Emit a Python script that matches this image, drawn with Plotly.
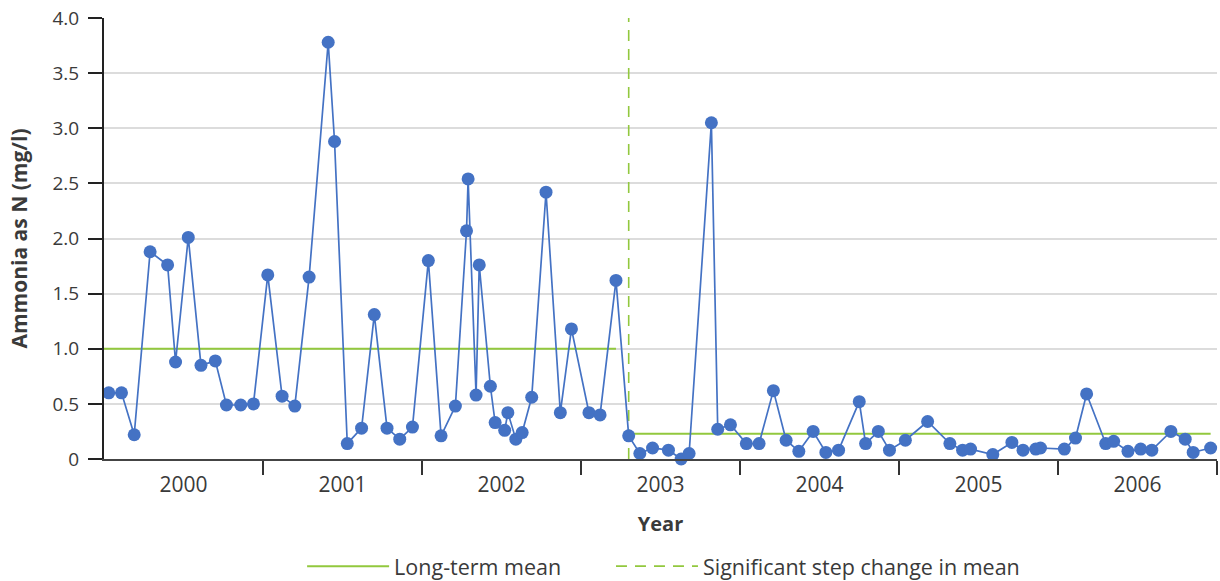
import plotly.graph_objects as go

# ---- data ----
sample_time = [
    2000.03, 2000.11, 2000.19, 2000.29, 2000.40, 2000.45, 2000.53, 2000.61, 2000.70, 2000.77,
    2000.86, 2000.94, 2001.03, 2001.12, 2001.20, 2001.29, 2001.41, 2001.45, 2001.53, 2001.62,
    2001.70, 2001.78, 2001.86, 2001.94, 2002.04, 2002.12, 2002.21, 2002.28, 2002.29, 2002.34,
    2002.36, 2002.43, 2002.46, 2002.52, 2002.54, 2002.59, 2002.63, 2002.69, 2002.78, 2002.87,
    2002.94, 2003.05, 2003.12, 2003.22, 2003.30, 2003.37, 2003.45, 2003.55, 2003.63, 2003.68,
    2003.82, 2003.86, 2003.94, 2004.04, 2004.12, 2004.21, 2004.29, 2004.37, 2004.46, 2004.54,
    2004.62, 2004.75, 2004.79, 2004.87, 2004.94, 2005.04, 2005.18, 2005.32, 2005.40, 2005.45,
    2005.59, 2005.71, 2005.78, 2005.86, 2005.89, 2006.04, 2006.11, 2006.18, 2006.30, 2006.35,
    2006.44, 2006.52, 2006.59, 2006.71, 2006.80, 2006.85, 2006.96,
]
ammonia = [
    0.60, 0.60, 0.22, 1.88, 1.76, 0.88, 2.01, 0.85, 0.89, 0.49,
    0.49, 0.50, 1.67, 0.57, 0.48, 1.65, 3.78, 2.88, 0.14, 0.28,
    1.31, 0.28, 0.18, 0.29, 1.80, 0.21, 0.48, 2.07, 2.54, 0.58,
    1.76, 0.66, 0.33, 0.26, 0.42, 0.18, 0.24, 0.56, 2.42, 0.42,
    1.18, 0.42, 0.40, 1.62, 0.21, 0.05, 0.10, 0.08, 0.00, 0.05,
    3.05, 0.27, 0.31, 0.14, 0.14, 0.62, 0.17, 0.07, 0.25, 0.06,
    0.08, 0.52, 0.14, 0.25, 0.08, 0.17, 0.34, 0.14, 0.08, 0.09,
    0.04, 0.15, 0.08, 0.09, 0.10, 0.09, 0.19, 0.59, 0.14, 0.16,
    0.07, 0.09, 0.08, 0.25, 0.18, 0.06, 0.10,
]
mean_before_x = [2000.0, 2003.22]
mean_before_y = [1.0, 1.0]
mean_after_x = [2003.30, 2006.96]
mean_after_y = [0.23, 0.23]
step_change_x = 2003.30
years = ["2000", "2001", "2002", "2003", "2004", "2005", "2006"]
y_ticks = [0, 0.5, 1.0, 1.5, 2.0, 2.5, 3.0, 3.5, 4.0]
y_ticklabels = ["0", "0.5", "1.0", "1.5", "2.0", "2.5", "3.0", "3.5", "4.0"]

BLUE = "#4472C4"
GREEN = "#92C83E"
FONT = "Open Sans"
TXT = "#3a3a3a"

fig = go.Figure()

fig.add_trace(go.Scatter(
    x=mean_before_x + [None] + mean_after_x,
    y=mean_before_y + [None] + mean_after_y,
    mode="lines", line=dict(color=GREEN, width=2),
    name="Long-term mean", legend="legend",
))

fig.add_trace(go.Scatter(
    x=[step_change_x, step_change_x], y=[0, 4.0],
    mode="lines", line=dict(color=GREEN, width=1.6, dash="11px,8px"),
    name="Significant step change in mean", legend="legend2",
))

fig.add_trace(go.Scatter(
    x=sample_time, y=ammonia, mode="lines+markers",
    line=dict(color=BLUE, width=1.7),
    marker=dict(color=BLUE, size=13),
    showlegend=False, cliponaxis=False,
))

start = int(years[0])
mid_vals = [int(y) + 0.5 for y in years]
bound_vals = [start + i for i in range(1, len(years) + 1)]

legend_style = dict(
    orientation="h", xanchor="left", y=-0.243, yanchor="middle",
    font=dict(size=21.5, color=TXT), itemwidth=82,
    bgcolor="rgba(0,0,0,0)",
)

fig.update_layout(
    width=1220, height=581,
    margin=dict(l=104, r=3, t=18, b=122, autoexpand=False),
    paper_bgcolor="white", plot_bgcolor="white",
    font=dict(family=FONT, size=20, color=TXT),
    showlegend=True,
    legend=dict(x=0.178, **legend_style),
    legend2=dict(x=0.4555, **legend_style),
)

fig.update_xaxes(
    range=[start, start + len(years)],
    tickmode="array", tickvals=mid_vals, ticktext=years,
    ticks="", ticklabelstandoff=6,
    minor=dict(tickmode="array", tickvals=bound_vals, ticks="outside",
               ticklen=14, tickwidth=2, tickcolor="#333333", showgrid=False),
    showline=True, linecolor="#444444", linewidth=2,
    showgrid=False, zeroline=False, automargin=False,
    tickfont=dict(size=21, color=TXT),
    title=dict(text="<b>Year</b>", font=dict(size=20, color=TXT), standoff=20),
)

fig.update_yaxes(
    range=[0, 4.0],
    tickmode="array", tickvals=y_ticks, ticktext=y_ticklabels,
    ticks="outside", ticklen=14, tickwidth=2, tickcolor="#222222",
    ticklabelstandoff=5,
    showline=True, linecolor="#222222", linewidth=2,
    showgrid=True, gridcolor="#dcdcdc", gridwidth=1.5,
    zeroline=False, automargin=False,
    tickfont=dict(size=19, color=TXT),
    title=dict(text="<b>Ammonia as N (mg/l)</b>", font=dict(size=21, color=TXT), standoff=19),
)

fig.write_html(
    "out.html",
    config={"displayModeBar": False},
    post_script="document.body.style.margin='0';document.body.style.overflow='hidden';",
)
